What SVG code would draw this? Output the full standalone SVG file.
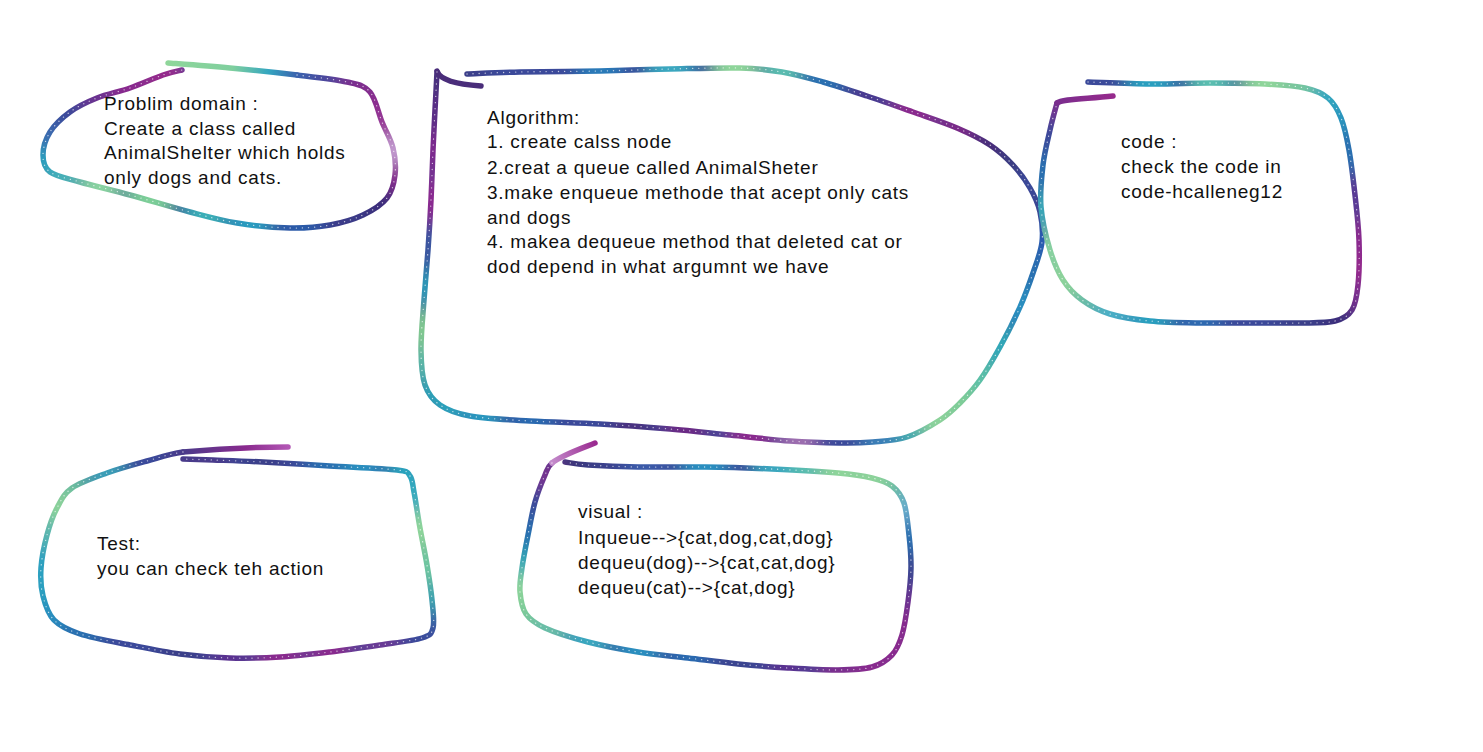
<svg xmlns="http://www.w3.org/2000/svg" xmlns:xlink="http://www.w3.org/1999/xlink" width="1483" height="752" viewBox="0 0 1483 752">
<style>
text{font-family:"Liberation Sans",Arial,sans-serif;font-size:19px;letter-spacing:0.75px;fill:#111}
.m{fill:none;stroke:#fff;stroke-width:5.5;stroke-linecap:round;stroke-linejoin:round}
.hook{fill:none;stroke-width:5.5;stroke-linecap:round;stroke-linejoin:round}
.spark{fill:none;stroke:#fff;stroke-width:1.3;stroke-linecap:round;stroke-dasharray:0.1 6;opacity:.7}
</style>
<defs>
<path id="p1" d="M297,75 C316.5,77.3 334.8,79.2 347,82 S364.2,85.3 370,92 S378.2,112.7 382,122 S390.8,139.2 393,148 S396,166.7 395,175 S392.3,191.3 387,198 S372.5,210.5 363,215 S342.2,222.8 330,225 S305.5,228.3 290,228 S253.7,225.7 237,223 S207.8,216.7 190,212 S148.3,200 130,195 S93.3,185.8 80,182 S56.2,176.5 50,172 S43,161.7 43,155 S45.5,139.2 50,132 S62.2,117.7 70,112 S87,102 97,98 S119,91.8 130,88 S154.3,78 163,75 S178.8,70.8 182,70"/>
<path id="p2" d="M467,74 C475.8,73.7 497.8,72.5 520,72 S575,71.5 600,71 S646.7,69.5 670,69 S721.3,67.5 740,68 S768.2,69.7 782,72 S808.8,78 823,82 S852,91 867,96 S898,106.7 913,112 S944.2,122.5 957,128 S980.7,138.8 990,145 S1006.3,157.8 1013,165 S1025.5,180.2 1030,188 S1038,203 1040,212 S1043.2,231.8 1042,242 S1036.7,262.2 1033,273 S1025.5,294.7 1020,307 S1006.7,334.8 1000,347 S986.7,370.7 980,380 S966.7,396.3 960,403 S948.8,414.3 940,420 S918.2,433.3 907,437 S884.2,441 873,442 S853.8,443.2 840,443 S808.3,442.3 790,441 S750,437 730,435 S691.7,430.8 670,429 S623.3,425.3 600,424 S551.7,422.3 530,421 S485,418.7 470,416 S447.5,410.2 440,405 S428.2,394.2 425,385 S421.2,364.2 421,350 S422.8,316.7 424,300 S426.8,266.7 428,250 S430.2,216.7 431,200 S432.3,165 433,150 S434.3,123 435,110 S436.7,78.3 437,72"/>
<path id="p3" d="M1088,82 C1098.3,82.3 1129.7,83.8 1150,84 S1190.8,83 1210,83 S1249.2,83.2 1265,84 S1294.5,85.7 1305,88 S1322,93 1328,98 S1337.5,109.3 1341,118 S1346.7,137.2 1349,150 S1353.3,180 1355,195 S1358.5,225 1359,240 S1359.2,273.3 1358,285 S1355.8,304 1352,310 S1343.7,318.8 1335,321 S1314.2,322.7 1300,323 S1266.7,323 1250,323 S1216.7,323.3 1200,323 S1165,322.5 1150,321 S1121.3,317.5 1110,314 S1089.8,305.7 1082,300 S1068.3,288.3 1063,280 S1053.7,262.2 1050,250 S1042.2,221.2 1041,207 S1041.5,177.8 1043,165 S1047.7,140.3 1050,130 S1055.8,107.5 1057,103"/>
<path id="p4" d="M183,452 C168,454.2 159.7,457.5 147,461 S119.5,468.5 107,473 S80.3,482.2 72,488 S61.2,500.2 57,508 S49.7,525 47,535 S41.7,557.8 41,568 S40.8,587.3 43,596 S47.8,613.7 54,620 S67.3,629.8 80,634 S113.3,641.7 130,645 S163.3,651.8 180,654 S213.3,657.5 230,658 S263.3,658 280,657 S313.3,654 330,652 S364.7,647.3 380,645 S413.2,640.8 422,638 S431.3,634.3 433,628 S433,610.5 432,600 S429,577 427,565 S422.2,540.2 420,528 S415.7,500.7 414,492 S412.8,479.7 410,476 S410.3,471.7 397,470 S352.3,467.3 330,466 S282.5,463 263,462 S226.3,460.5 213,460 S188,459.2 183,459"/>
<path id="p5" d="M552,463 C547.5,466.8 547.8,468.5 545,475 S537.8,492 535,502 S530.2,524 528,535 S523.3,558.5 522,568 S519.3,584.3 520,592 S521.8,608 526,614 S534.7,623.3 545,628 S572.5,638 588,642 S621.3,649.3 638,652 S671.3,656 688,658 S721.3,662.3 738,664 S771.3,667 788,668 S824,670.2 838,670 S863,669.5 872,667 S887,660.3 892,655 S899.3,643.8 902,635 S906.5,613.2 908,602 S910.8,579.2 911,568 S910.2,545.8 909,535 S906.8,511.2 904,503 S897.3,490.2 892,486 S881,480.2 872,478 S854.7,474.5 838,473 S794.2,470 772,469 S727.3,467.3 705,467 S657.5,467.3 638,467 S600.2,465.8 588,465 S568.8,462.5 565,462"/>
<mask id="m1" maskUnits="userSpaceOnUse" x="0" y="0" width="1483" height="752"><use href="#p1" class="m"/></mask>
<mask id="m2" maskUnits="userSpaceOnUse" x="0" y="0" width="1483" height="752"><use href="#p2" class="m"/></mask>
<mask id="m3" maskUnits="userSpaceOnUse" x="0" y="0" width="1483" height="752"><use href="#p3" class="m"/></mask>
<mask id="m4" maskUnits="userSpaceOnUse" x="0" y="0" width="1483" height="752"><use href="#p4" class="m"/></mask>
<mask id="m5" maskUnits="userSpaceOnUse" x="0" y="0" width="1483" height="752"><use href="#p5" class="m"/></mask>
<filter id="soft" x="-20%" y="-20%" width="140%" height="140%"><feGaussianBlur stdDeviation="9"/></filter>
<linearGradient id="g1" gradientUnits="userSpaceOnUse" x1="168" y1="63" x2="297" y2="75"><stop offset="0" stop-color="#8fd69a"/><stop offset="0.5" stop-color="#7fcf9e"/><stop offset="0.78" stop-color="#34a6c0"/><stop offset="1" stop-color="#3a62ae"/></linearGradient>
<linearGradient id="g3" gradientUnits="userSpaceOnUse" x1="1057" y1="103" x2="1113" y2="96"><stop offset="0" stop-color="#7a2d8e"/><stop offset="1" stop-color="#962a8c"/></linearGradient>
<linearGradient id="g4" gradientUnits="userSpaceOnUse" x1="288" y1="447" x2="183" y2="452"><stop offset="0" stop-color="#b256b4"/><stop offset="0.4" stop-color="#8a2a8e"/><stop offset="1" stop-color="#4a3a8a"/></linearGradient>
<linearGradient id="g5" gradientUnits="userSpaceOnUse" x1="595" y1="443" x2="552" y2="463"><stop offset="0" stop-color="#9a2a90"/><stop offset="1" stop-color="#c48ccc"/></linearGradient>
</defs>
<rect width="1483" height="752" fill="#fff"/>

<g id="node-problem-domain">
<g mask="url(#m1)"><g filter="url(#soft)">
<rect x="20" y="40" width="400" height="210" fill="#3a4a9a"/>
<circle cx="297" cy="75" r="22" fill="#3a62ae"/><circle cx="330" cy="80" r="22" fill="#4a4a9e"/><circle cx="358" cy="86" r="22" fill="#7a2d8e"/><circle cx="376" cy="106" r="22" fill="#8a2a8e"/><circle cx="386" cy="128" r="20" fill="#9a3a98"/><circle cx="394" cy="155" r="20" fill="#c8a0d4"/><circle cx="392" cy="182" r="20" fill="#8a2a8e"/><circle cx="378" cy="206" r="22" fill="#3a2f7a"/><circle cx="345" cy="221" r="22" fill="#3a3a88"/><circle cx="300" cy="227" r="22" fill="#2c5aa8"/><circle cx="250" cy="225" r="22" fill="#2a9cc0"/><circle cx="205" cy="216" r="22" fill="#3ab0b8"/><circle cx="150" cy="200" r="24" fill="#7dcf98"/><circle cx="100" cy="188" r="22" fill="#8ad4a0"/><circle cx="60" cy="176" r="20" fill="#48b4b8"/><circle cx="43" cy="155" r="20" fill="#2aa4c0"/><circle cx="50" cy="132" r="20" fill="#3a6ab0"/><circle cx="70" cy="112" r="20" fill="#3a4a9a"/><circle cx="97" cy="98" r="20" fill="#6a3090"/><circle cx="130" cy="88" r="22" fill="#8a2a8e"/><circle cx="165" cy="75" r="22" fill="#952a8c"/>
</g></g>
<path class="hook" stroke="url(#g1)" d="M168,63 C178.3,63.8 208.5,66 230,68 S277.5,72.7 297,75"/>
<use href="#p1" class="spark"/>
<text x="104" y="110">Problim domain :</text>
<text x="104" y="135">Create a class called</text>
<text x="104" y="159">AnimalShelter which holds</text>
<text x="104" y="184">only dogs and cats.</text>
</g>

<g id="node-algorithm">
<g mask="url(#m2)"><g filter="url(#soft)">
<rect x="400" y="40" width="670" height="430" fill="#3a4a9a"/>
<circle cx="467" cy="74" r="22" fill="#3a3f8a"/><circle cx="520" cy="72" r="24" fill="#3a4a9a"/><circle cx="600" cy="71" r="24" fill="#2a7ab8"/><circle cx="670" cy="69" r="24" fill="#3aa8c0"/><circle cx="735" cy="68" r="24" fill="#8fd69a"/><circle cx="782" cy="72" r="20" fill="#5cc0b0"/><circle cx="823" cy="82" r="22" fill="#2a70b0"/><circle cx="867" cy="96" r="22" fill="#4a3a90"/><circle cx="913" cy="112" r="24" fill="#8a2a8e"/><circle cx="957" cy="128" r="22" fill="#7a2a88"/><circle cx="990" cy="145" r="20" fill="#4a2a78"/><circle cx="1013" cy="165" r="20" fill="#3a3a80"/><circle cx="1030" cy="188" r="20" fill="#3a4a9a"/><circle cx="1040" cy="212" r="20" fill="#3a4590"/><circle cx="1042" cy="242" r="22" fill="#2a5ab0"/><circle cx="1033" cy="273" r="22" fill="#2a70b0"/><circle cx="1020" cy="307" r="22" fill="#2a8fc0"/><circle cx="1000" cy="347" r="22" fill="#30a8b8"/><circle cx="980" cy="380" r="22" fill="#5ac0a8"/><circle cx="960" cy="403" r="20" fill="#7fcf98"/><circle cx="935" cy="422" r="20" fill="#8fd69a"/><circle cx="907" cy="437" r="18" fill="#4ab0b0"/><circle cx="880" cy="443" r="20" fill="#3a80b8"/><circle cx="835" cy="443" r="20" fill="#3a4a9a"/><circle cx="798" cy="442" r="20" fill="#a070b0"/><circle cx="750" cy="437" r="24" fill="#8a2a8e"/><circle cx="685" cy="430" r="24" fill="#6a2a85"/><circle cx="632" cy="427" r="22" fill="#4a3080"/><circle cx="582" cy="423" r="22" fill="#3a4a9a"/><circle cx="532" cy="421" r="22" fill="#2a6ab0"/><circle cx="482" cy="418" r="20" fill="#2a9ac0"/><circle cx="448" cy="408" r="16" fill="#2aa8c0"/><circle cx="430" cy="392" r="16" fill="#2aa4b8"/><circle cx="422" cy="363" r="18" fill="#5ab8a8"/><circle cx="423" cy="330" r="22" fill="#80c890"/><circle cx="426" cy="285" r="20" fill="#2f9ab8"/><circle cx="428" cy="250" r="22" fill="#3a56a0"/><circle cx="431" cy="200" r="24" fill="#8a2a90"/><circle cx="433" cy="150" r="24" fill="#7d2a8e"/><circle cx="435" cy="110" r="22" fill="#5a2d85"/><circle cx="437" cy="76" r="18" fill="#4a2d7a"/>
</g></g>
<path class="hook" stroke="#4a2d7a" d="M437,71 C440,80 455,84 481,86"/>
<use href="#p2" class="spark"/>
<text x="487" y="124">Algorithm:</text>
<text x="487" y="148">1. create calss node</text>
<text x="487" y="174">2.creat a queue called AnimalSheter</text>
<text x="487" y="199">3.make enqueue methode that acept only cats</text>
<text x="487" y="224">and dogs</text>
<text x="487" y="248">4. makea dequeue method that deleted cat or</text>
<text x="487" y="273">dod depend in what argumnt we have</text>
</g>

<g id="node-code">
<g mask="url(#m3)"><g filter="url(#soft)">
<rect x="1020" y="60" width="370" height="290" fill="#3a4a9a"/>
<circle cx="1088" cy="82" r="22" fill="#3a4a9a"/><circle cx="1150" cy="84" r="24" fill="#2aa0c0"/><circle cx="1210" cy="83" r="22" fill="#5ac0b0"/><circle cx="1265" cy="84" r="24" fill="#8fd69a"/><circle cx="1305" cy="88" r="20" fill="#7acb9e"/><circle cx="1330" cy="100" r="20" fill="#30a8c0"/><circle cx="1341" cy="122" r="18" fill="#2a98c0"/><circle cx="1349" cy="152" r="22" fill="#2a70b0"/><circle cx="1355" cy="195" r="22" fill="#5a3a95"/><circle cx="1359" cy="240" r="22" fill="#8a2a8e"/><circle cx="1358" cy="272" r="20" fill="#962a8c"/><circle cx="1354" cy="300" r="18" fill="#7a2d8e"/><circle cx="1335" cy="321" r="20" fill="#3a2f7a"/><circle cx="1300" cy="323" r="22" fill="#3a3f8a"/><circle cx="1250" cy="323" r="22" fill="#3a4a9a"/><circle cx="1200" cy="323" r="22" fill="#2e6ab0"/><circle cx="1150" cy="321" r="22" fill="#2aa0c0"/><circle cx="1110" cy="314" r="20" fill="#4ab0c8"/><circle cx="1082" cy="300" r="18" fill="#6ac0a8"/><circle cx="1063" cy="280" r="20" fill="#8fd69a"/><circle cx="1050" cy="250" r="20" fill="#8ad4a0"/><circle cx="1041" cy="210" r="20" fill="#3aa8b8"/><circle cx="1043" cy="170" r="20" fill="#2a70b0"/><circle cx="1050" cy="132" r="18" fill="#3a4a9a"/><circle cx="1057" cy="106" r="16" fill="#7a2d8e"/>
</g></g>
<path class="hook" stroke="url(#g3)" d="M1057,103 C1062,99 1085,99 1113,96"/>
<use href="#p3" class="spark"/>
<text x="1121" y="148">code :</text>
<text x="1121" y="173">check the code in</text>
<text x="1121" y="198">code-hcalleneg12</text>
</g>

<g id="node-test">
<g mask="url(#m4)"><g filter="url(#soft)">
<rect x="20" y="430" width="440" height="250" fill="#3a4a9a"/>
<circle cx="183" cy="457" r="20" fill="#4a3a8a"/><circle cx="147" cy="461" r="20" fill="#3a4a9a"/><circle cx="107" cy="473" r="20" fill="#3aa0b8"/><circle cx="72" cy="488" r="18" fill="#6ac0a0"/><circle cx="57" cy="510" r="20" fill="#8fd69a"/><circle cx="47" cy="538" r="20" fill="#5ab8b0"/><circle cx="41" cy="568" r="22" fill="#2aa0c0"/><circle cx="43" cy="596" r="20" fill="#2aa0c0"/><circle cx="54" cy="620" r="20" fill="#2a90c0"/><circle cx="80" cy="634" r="22" fill="#2a70b0"/><circle cx="130" cy="645" r="24" fill="#3a4a9a"/><circle cx="180" cy="654" r="24" fill="#3a3f8a"/><circle cx="230" cy="658" r="22" fill="#5a3090"/><circle cx="280" cy="657" r="24" fill="#8a2a8e"/><circle cx="330" cy="652" r="22" fill="#8a2a8e"/><circle cx="380" cy="645" r="22" fill="#6a3a95"/><circle cx="422" cy="638" r="18" fill="#3a4a9a"/><circle cx="433" cy="615" r="16" fill="#3a60a8"/><circle cx="432" cy="595" r="18" fill="#40a8b0"/><circle cx="427" cy="565" r="20" fill="#70c8a0"/><circle cx="420" cy="528" r="22" fill="#8fd69a"/><circle cx="414" cy="495" r="18" fill="#3ab0c0"/><circle cx="405" cy="472" r="18" fill="#2aa8c0"/><circle cx="360" cy="468" r="22" fill="#2a90c0"/><circle cx="325" cy="466" r="20" fill="#2a70b0"/><circle cx="263" cy="462" r="24" fill="#3a3f8a"/><circle cx="213" cy="460" r="20" fill="#4a3a8a"/>
</g></g>
<path class="hook" stroke="url(#g4)" d="M288,447 C260,447 215,449 183,452"/>
<use href="#p4" class="spark"/>
<text x="97" y="550">Test:</text>
<text x="97" y="575">you can check teh action</text>
</g>

<g id="node-visual">
<g mask="url(#m5)"><g filter="url(#soft)">
<rect x="500" y="440" width="430" height="250" fill="#3a4a9a"/>
<circle cx="548" cy="470" r="14" fill="#7a2d8e"/><circle cx="543" cy="482" r="16" fill="#7a2d8e"/><circle cx="535" cy="505" r="18" fill="#3a4a9a"/><circle cx="528" cy="535" r="20" fill="#2a70b0"/><circle cx="522" cy="566" r="20" fill="#30a8b8"/><circle cx="520" cy="592" r="20" fill="#8fd69a"/><circle cx="526" cy="614" r="18" fill="#7fcf98"/><circle cx="548" cy="630" r="20" fill="#6ac0a8"/><circle cx="588" cy="642" r="22" fill="#3aa8c0"/><circle cx="638" cy="652" r="22" fill="#2a90c0"/><circle cx="688" cy="658" r="22" fill="#2a6ab0"/><circle cx="738" cy="664" r="22" fill="#3a4590"/><circle cx="788" cy="668" r="22" fill="#5a3090"/><circle cx="838" cy="670" r="22" fill="#7a2d8e"/><circle cx="872" cy="667" r="20" fill="#8a2a8e"/><circle cx="895" cy="650" r="20" fill="#8a2a8e"/><circle cx="905" cy="620" r="20" fill="#8a2a8e"/><circle cx="908" cy="595" r="18" fill="#6a3090"/><circle cx="911" cy="568" r="20" fill="#3a4590"/><circle cx="909" cy="535" r="20" fill="#2a70b0"/><circle cx="904" cy="506" r="18" fill="#6ab0d0"/><circle cx="892" cy="486" r="16" fill="#6ac0a8"/><circle cx="872" cy="478" r="20" fill="#8fd69a"/><circle cx="838" cy="473" r="22" fill="#8fd69a"/><circle cx="800" cy="470" r="20" fill="#5ac0b0"/><circle cx="772" cy="469" r="20" fill="#3aa8c0"/><circle cx="705" cy="467" r="24" fill="#2a8fc0"/><circle cx="645" cy="467" r="22" fill="#3a5aa8"/><circle cx="600" cy="465" r="20" fill="#3a3f8a"/><circle cx="572" cy="462" r="14" fill="#3a2f70"/>
</g></g>
<path class="hook" stroke="url(#g5)" d="M595,443 C580,449 562,455 552,463"/>
<use href="#p5" class="spark"/>
<text x="578" y="518">visual :</text>
<text x="578" y="544">Inqueue--&gt;{cat,dog,cat,dog}</text>
<text x="578" y="569">dequeu(dog)--&gt;{cat,cat,dog}</text>
<text x="578" y="594">dequeu(cat)--&gt;{cat,dog}</text>
</g>

<g id="connectors"/>
</svg>
